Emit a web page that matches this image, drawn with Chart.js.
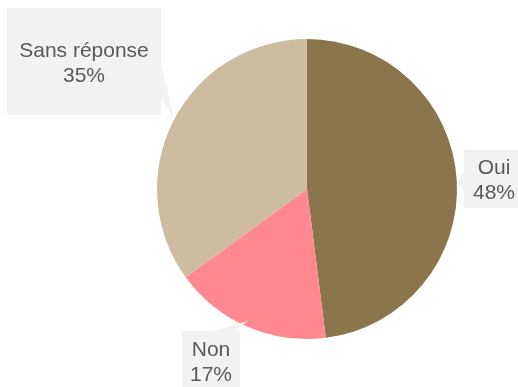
<!DOCTYPE html>
<html>
<head>
<meta charset="utf-8">
<script src="https://cdn.jsdelivr.net/npm/chart.js@4"></script>
<style>
  html, body { margin: 0; padding: 0; background: #fff; }
  #wrap { width: 518px; height: 387px; }
</style>
</head>
<body>
<div id="wrap"><canvas id="pie" width="518" height="387"></canvas></div>
<script>
// ---- DATA ----
const categories = ["Oui", "Non", "Sans réponse"];
const values = [48, 17, 35];
const colors = ["#8B754B", "#FF8891", "#CDBC9F"];

// callout boxes, relative to pie centre (x, y, w, h), pointer tip + base
const callouts = [
  { box: [157, -39, 60, 58], tip: [150, -6], base: [[157, -18], [157, 2]] },
  { box: [-125, 142, 58, 60], tip: [-59, 132], base: [[-94, 142], [-72, 142]] },
  { box: [-300, -181, 154, 107], tip: [-134, -73], base: [[-146, -127], [-146, -91]] }
];

// ---- CALLOUT LABELS ----
const calloutPlugin = {
  id: "callouts",
  afterDatasetsDraw(chart) {
    const ctx = chart.ctx;
    const meta = chart.getDatasetMeta(0);
    const total = values.reduce((a, b) => a + b, 0);
    meta.data.forEach((arc, i) => {
      const cx = arc.x, cy = arc.y;
      const c = callouts[i];
      ctx.save();
      ctx.fillStyle = "#F2F2F2";
      ctx.fillRect(cx + c.box[0], cy + c.box[1], c.box[2], c.box[3]);
      ctx.beginPath();
      ctx.moveTo(cx + c.base[0][0], cy + c.base[0][1]);
      ctx.lineTo(cx + c.tip[0], cy + c.tip[1]);
      ctx.lineTo(cx + c.base[1][0], cy + c.base[1][1]);
      ctx.closePath();
      ctx.fill();
      ctx.fillStyle = "#595959";
      ctx.font = "21px 'Liberation Sans', Arial, sans-serif";
      ctx.textAlign = "center";
      ctx.textBaseline = "alphabetic";
      const tx = cx + c.box[0] + c.box[2] / 2;
      const ty = cy + c.box[1] + c.box[3] / 2;
      const pct = Math.round(values[i] / total * 100) + "%";
      ctx.fillText(categories[i], tx, ty - 5);
      ctx.fillText(pct, tx, ty + 20);
      ctx.restore();
    });
  }
};

const ctx = document.getElementById("pie").getContext("2d");
const chart = new Chart(ctx, {
  type: "pie",
  data: {
    labels: categories,
    datasets: [{
      data: values,
      backgroundColor: colors,
      borderColor: colors,
      borderWidth: 0
    }]
  },
  options: {
    responsive: false,
    animation: false,
    radius: 150,
    layout: { padding: { left: 146, right: 50, top: 30, bottom: 39 } },
    plugins: {
      legend: { display: false },
      tooltip: { enabled: false }
    }
  },
  plugins: [calloutPlugin]
});
</script>
</body>
</html>
